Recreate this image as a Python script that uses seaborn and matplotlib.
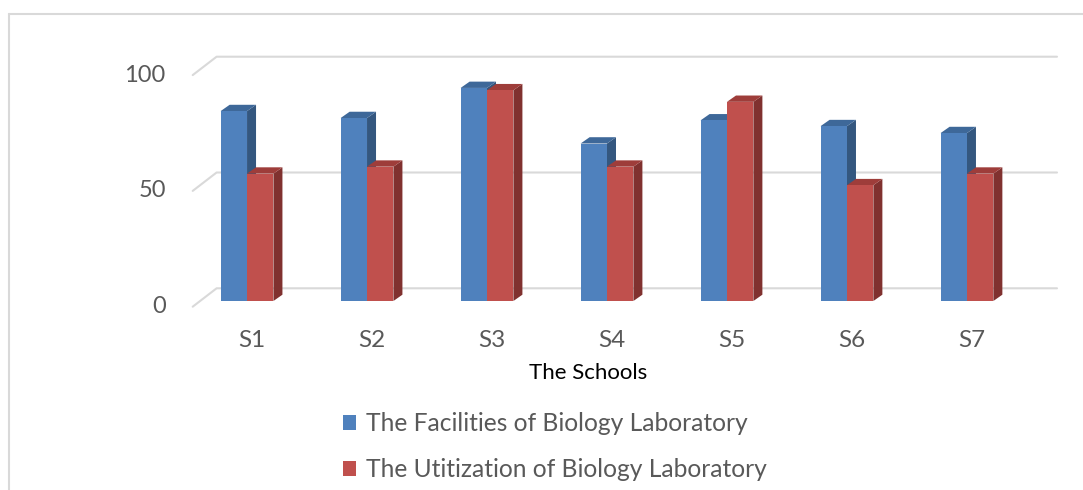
import numpy as np
import pandas as pd
import seaborn as sns
import matplotlib.pyplot as plt
from matplotlib.patches import Polygon
from matplotlib.lines import Line2D

schools = ["S1", "S2", "S3", "S4", "S5", "S6", "S7"]
facilities = [82, 79, 92, 68, 78, 75.5, 72.5]
utilization = [55, 58, 91, 58, 86, 50, 55]
series = ["The Facilities of Biology Laboratory", "The Utitization of Biology Laboratory"]
yticks = [0, 50, 100]
xlabel = "The Schools"

front = ["#4F81BD", "#C0504D"]
side = ["#34577F", "#80312F"]
top = ["#3E6899", "#9E3D3A"]
grid_c = "#D9D9D9"
text_c = "#595959"

df = pd.DataFrame({"school": schools * 2,
                   "value": facilities + utilization,
                   "series": [series[0]] * len(schools) + [series[1]] * len(schools)})

sns.set_style("white")
plt.rcParams["font.family"] = ["Lato", "DejaVu Sans"]

W, H = 1083, 490
fig = plt.figure(figsize=(W / 100, H / 100), dpi=100)
# axes = front plane of the bars (pixel layout)
ax = fig.add_axes([200 / W, (H - 301) / H, 840.4 / W, 231.6 / H])

sns.barplot(df, x="school", y="value", hue="series", palette=front, width=0.44,
            gap=0, saturation=1, errorbar=None, linewidth=0, zorder=3, ax=ax)
ax.set_xlim(-0.392, 6.612)
ax.set_ylim(0, 100)
for s in ax.spines.values():
    s.set_visible(False)
ax.set_xlabel("")
ax.set_ylabel("")
ax.set_yticks([])

# pixel -> data scale
p0 = ax.transData.transform((0, 0))
p1 = ax.transData.transform((1, 1))
px_x = p1[0] - p0[0]
px_y = p1[1] - p0[1]

# depth of the 3d boxes
ddx, ddy = 9 / px_x, 6.3 / px_y
for i, cont in enumerate(ax.containers):
    for bar in cont:
        x0, y0 = bar.get_x(), bar.get_y()
        x1, y1 = x0 + bar.get_width(), y0 + bar.get_height()
        ax.add_patch(Polygon([(x1, y0), (x1 + ddx, y0 + ddy), (x1 + ddx, y1 + ddy), (x1, y1)],
                             closed=True, fc=side[i], ec="none", zorder=2 + i * 0.1, clip_on=False))
        ax.add_patch(Polygon([(x0, y1), (x1, y1), (x1 + ddx, y1 + ddy), (x0 + ddx, y1 + ddy)],
                             closed=True, fc=top[i], ec="none", zorder=2 + i * 0.1, clip_on=False))

# back-wall gridlines with the diagonal floor/side edge
xl, xr = ax.get_xlim()
fdx, fdy = -7.3 / px_x, -5.7 / px_y
bdx, bdy = 16.6 / px_x, 12.7 / px_y
for y in yticks:
    ax.plot([xl + fdx, xl + bdx, xr + bdx], [y + fdy, y + bdy, y + bdy],
            color=grid_c, lw=1.5, zorder=1, clip_on=False)
    ax.text(xl + fdx - 27 / px_x, y + fdy, str(y), ha="right", va="center",
            fontsize=17, color=text_c, clip_on=False)

ax.set_xticks(np.arange(len(schools)) + 5 / px_x, labels=schools)
ax.tick_params(axis="x", length=0, pad=21, labelsize=17.5, labelcolor=text_c)

fig.text(588 / W, 1 - 373 / H, xlabel, ha="center", va="center", fontsize=16, color="black")

handles, labels = ax.get_legend_handles_labels()
ax.get_legend().remove()
fig.legend(handles, labels, loc="upper left", bbox_to_anchor=(333 / W, 1 - 402 / H),
           frameon=False, fontsize=17.7, labelcolor=text_c, handlelength=0.55, handleheight=0.55,
           handletextpad=0.4, labelspacing=0.95, borderaxespad=0)

# chart area border (top and left visible)
fig.add_artist(Line2D([9 / W, 9 / W], [0, 1 - 14 / H], transform=fig.transFigure, color=grid_c, lw=1.5))
fig.add_artist(Line2D([9 / W, 1], [1 - 14 / H, 1 - 14 / H], transform=fig.transFigure, color=grid_c, lw=1.5))

fig.savefig("out.png", dpi=100, facecolor="white")
